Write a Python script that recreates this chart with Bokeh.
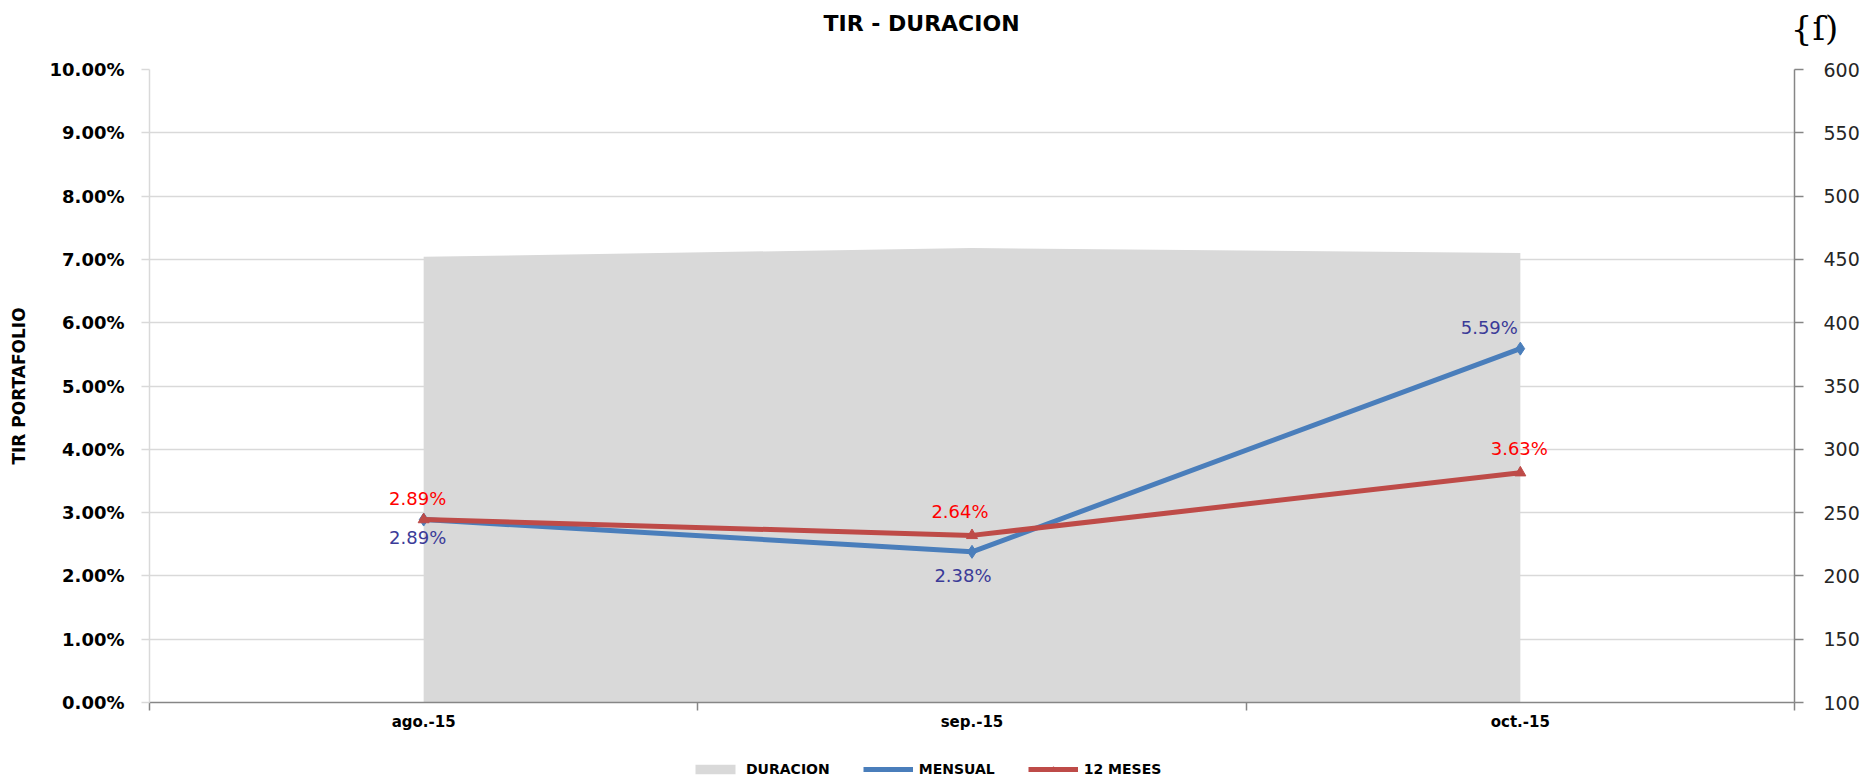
from bokeh.plotting import figure
from bokeh.layouts import column, row
from bokeh.models import (Range1d, LinearAxis, FixedTicker, PrintfTickFormatter,
                          Label, Legend, LegendItem)
from bokeh.core.properties import value
from bokeh.embed import file_html
from bokeh.resources import INLINE

# ---- data ----
categories = ["ago.-15", "sep.-15", "oct.-15"]
duracion = [452, 459, 455]
mensual = [2.89, 2.38, 5.59]
doce_meses = [2.89, 2.64, 3.63]
left_ticks = [0, 1, 2, 3, 4, 5, 6, 7, 8, 9, 10]
right_ticks = [100, 150, 200, 250, 300, 350, 400, 450, 500, 550, 600]
series_names = ["DURACION", "MENSUAL", "12 MESES"]
chart_title = "TIR - DURACION"
y_title = "TIR PORTAFOLIO"
logo = "{ſ)"

FONT = "DejaVu Sans"
BLUE = "#4A7EBB"
RED = "#BE4B48"
GRAY = "#D9D9D9"

W, H = 1868, 778
T = 50                      # title strip height
B = 38                      # legend strip height
ML, MR = 149, 74            # frame left / right borders
MT = 69 - T                 # main frame top border
MB = (H - B) - 702          # main frame bottom border

n = len(categories)
xs = [i + 0.5 for i in range(n)]


def strip(height):
    f = figure(width=W, height=height, output_backend="svg", toolbar_location=None,
               x_range=Range1d(0, W), y_range=Range1d(height, 0),
               x_axis_type=None, y_axis_type=None,
               min_border_left=0, min_border_right=0,
               min_border_top=0, min_border_bottom=0)
    f.outline_line_color = None
    f.xgrid.visible = False
    f.ygrid.visible = False
    return f


# ---- title strip ----
top = strip(T)
top.add_layout(Label(x=921, y=23, text=chart_title, text_align="center",
                     text_baseline="middle", text_font=FONT, text_font_style="bold",
                     text_font_size="22px", text_color="#000000"))
top.add_layout(Label(x=1814, y=27, text=logo, text_align="center",
                     text_baseline="middle", text_font="DejaVu Serif",
                     text_font_size="34px", text_color="#000000"))

# ---- main chart ----
p = figure(width=W, height=H - T - B, output_backend="svg", toolbar_location=None,
           x_range=Range1d(0, n), y_range=Range1d(left_ticks[0], left_ticks[-1]),
           min_border_left=ML, min_border_right=MR, min_border_top=MT,
           min_border_bottom=MB)
p.outline_line_color = None
p.extra_y_ranges = {"dur": Range1d(right_ticks[0], right_ticks[-1])}

# x axis: labels at category centres, tick marks at category boundaries
xa = p.xaxis[0]
xa.ticker = FixedTicker(ticks=xs, minor_ticks=list(range(n + 1)))
xa.major_label_overrides = {x: c for x, c in zip(xs, categories)}
xa.major_tick_out = 0
xa.major_tick_in = 0
xa.minor_tick_out = 8
xa.minor_tick_in = 0
xa.minor_tick_line_color = "#868686"
xa.minor_tick_line_width = 1.5
xa.axis_line_color = "#868686"
xa.axis_line_width = 1.5
xa.major_label_standoff = 2
xa.major_label_text_font = FONT
xa.major_label_text_font_style = "bold"
xa.major_label_text_font_size = "15px"
xa.major_label_text_color = "#000000"

# left axis
ya = p.yaxis[0]
ya.ticker = FixedTicker(ticks=left_ticks)
ya.formatter = PrintfTickFormatter(format="%.2f%%")
ya.axis_line_color = GRAY
ya.axis_line_width = 1.5
ya.major_tick_line_color = GRAY
ya.major_tick_line_width = 1.5
ya.major_tick_out = 8
ya.major_tick_in = 0
ya.minor_tick_line_color = None
ya.major_label_standoff = 17
ya.major_label_text_font = FONT
ya.major_label_text_font_style = "bold"
ya.major_label_text_font_size = "18px"
ya.major_label_text_color = "#000000"
ya.axis_label = y_title
ya.axis_label_text_font = FONT
ya.axis_label_text_font_style = "bold"
ya.axis_label_text_font_size = "17px"
ya.axis_label_text_color = "#000000"
ya.axis_label_standoff = 18

# right axis
ra = LinearAxis(y_range_name="dur", ticker=FixedTicker(ticks=right_ticks))
ra.axis_line_color = "#868686"
ra.axis_line_width = 1.5
ra.major_tick_line_color = "#868686"
ra.major_tick_line_width = 1.5
ra.major_tick_out = 9
ra.major_tick_in = 0
ra.minor_tick_line_color = None
ra.major_label_standoff = 20
ra.major_label_text_font = FONT
ra.major_label_text_font_size = "19px"
ra.major_label_text_color = "#262626"
p.add_layout(ra, "right")

p.xgrid.visible = False
p.ygrid.ticker = FixedTicker(ticks=left_ticks)
p.ygrid.grid_line_color = GRAY
p.ygrid.grid_line_width = 1.5

# area (duration, right axis)
p.varea(x=xs, y1=[right_ticks[0]] * n, y2=duracion, y_range_name="dur", fill_color=GRAY)

p.line(xs, mensual, line_color=BLUE, line_width=5)
p.scatter(xs, mensual, marker="diamond", size=13, fill_color=BLUE, line_color=BLUE)
p.line(xs, doce_meses, line_color=RED, line_width=5)
p.scatter(xs, doce_meses, marker="triangle", size=11, fill_color=RED, line_color=RED)

# data labels
p.text(x=xs, y=mensual, text=["%.2f%%" % v for v in mensual],
       x_offset=[-6, -9, -31], y_offset=[18, 24, -21],
       text_align="center", text_baseline="middle",
       text_font=value(FONT), text_font_size="18px", text_color="#3B3B98")
p.text(x=xs, y=doce_meses, text=["%.2f%%" % v for v in doce_meses],
       x_offset=[-6, -12, -1], y_offset=[-21, -24, -24],
       text_align="center", text_baseline="middle",
       text_font=value(FONT), text_font_size="18px", text_color="#FF0000")

# ---- legend strip: keys styled like the series, their own marks kept off-canvas ----
bot = strip(B)
off = [-50, -40]
k_area = bot.varea(x=off, y1=[-50, -50], y2=[-40, -40], fill_color=GRAY)
k_l1 = bot.line(x=off, y=off, line_color=BLUE, line_width=5)
k_s1 = bot.scatter(x=off, y=off, marker="diamond", size=10, fill_color=BLUE, line_color=BLUE)
k_l2 = bot.line(x=off, y=off, line_color=RED, line_width=5)
k_s2 = bot.scatter(x=off, y=off, marker="triangle", size=9, fill_color=RED, line_color=RED)
legend = Legend(items=[LegendItem(label=series_names[0], renderers=[k_area]),
                       LegendItem(label=series_names[1], renderers=[k_l1, k_s1]),
                       LegendItem(label=series_names[2], renderers=[k_l2, k_s2])],
                orientation="horizontal", location=(690, 1),
                glyph_width=50, glyph_height=12, label_standoff=6, spacing=33,
                padding=0, margin=0, label_height=16,
                border_line_color=None, background_fill_alpha=0,
                label_text_font=FONT, label_text_font_style="bold",
                label_text_font_size="14px", label_text_color="#000000")
bot.add_layout(legend)

layout = column(row(top), p, row(bot), spacing=0)
open("out.html", "w").write(file_html(layout, INLINE))
